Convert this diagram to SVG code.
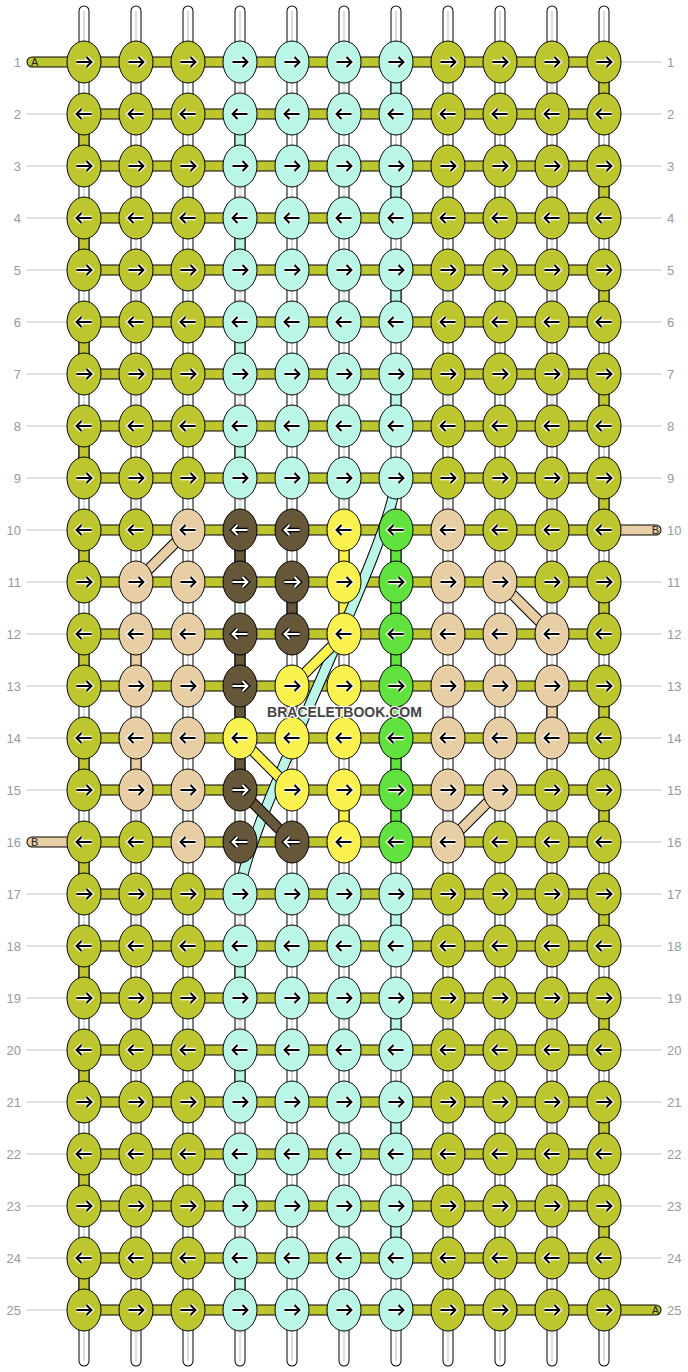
<svg xmlns="http://www.w3.org/2000/svg" width="688" height="1372" viewBox="0 0 688 1372">
<style>
.o{fill:none;stroke:#000;stroke-width:11;stroke-linecap:round}
.od{fill:none;stroke:#000;stroke-width:11}
.w{fill:none;stroke:#fff;stroke-width:9;stroke-linecap:round}
.gl{fill:none;stroke:#bbb;stroke-width:1}
.sg{fill:none;stroke:#bdc62f;stroke-width:9;stroke-linecap:round}
.sm{fill:none;stroke:#b9f6e8;stroke-width:9;stroke-linecap:round}
.st{fill:none;stroke:#e8cea5;stroke-width:9;stroke-linecap:round}
.sb{fill:none;stroke:#67573a;stroke-width:9;stroke-linecap:round}
.sy{fill:none;stroke:#f9f14e;stroke-width:9;stroke-linecap:round}
.sl{fill:none;stroke:#62e23e;stroke-width:9;stroke-linecap:round}
.dm{fill:none;stroke:#b9f6e8;stroke-width:9}
.dt{fill:none;stroke:#e8cea5;stroke-width:9}
.dy{fill:none;stroke:#f9f14e;stroke-width:9}
.db{fill:none;stroke:#67573a;stroke-width:9}
.cg{fill:#bdc62f}.cm{fill:#b9f6e8}.ct{fill:#e8cea5}.cb{fill:#67573a}.cy{fill:#f9f14e}.cl{fill:#62e23e}
.ln{fill:none;stroke:#c4c4c4;stroke-width:1}
.lb{font-family:"Liberation Sans",Arial,sans-serif;font-size:13px;fill:#999}
.tl{font-family:"Liberation Sans",Arial,sans-serif;font-size:11px;fill:#222}
.wm{font-family:"Liberation Sans",Arial,sans-serif;font-size:14px;font-weight:bold;fill:#444;stroke:#fff;stroke-width:2.5;paint-order:stroke;stroke-linejoin:round}
</style>
<defs>
<ellipse id="e" rx="17" ry="21" stroke="#000" stroke-width="1"/>
<path id="pR" d="M-7.5,0H7M2.5,-5L7.5,0L2.5,5" fill="none"/>
<path id="pL" d="M7.5,0H-7M-2.5,-5L-7.5,0L-2.5,5" fill="none"/>
<g id="R"><use href="#pR" stroke="#fff" stroke-width="4.5"/><use href="#pR" stroke="#000" stroke-width="2"/></g>
<g id="L"><use href="#pL" stroke="#fff" stroke-width="4.5"/><use href="#pL" stroke="#000" stroke-width="2"/></g>
<g id="Rw"><use href="#pR" stroke="#000" stroke-width="4.5"/><use href="#pR" stroke="#fff" stroke-width="2"/></g>
<g id="Lw"><use href="#pL" stroke="#000" stroke-width="4.5"/><use href="#pL" stroke="#fff" stroke-width="2"/></g>
<path id="vs" d="M84,11V1361M136,11V1361M188,11V1361M240,11V1361M292,11V1361M344,11V1361M396,11V1361M448,11V1361M500,11V1361M552,11V1361M604,11V1361"/>
<path id="vg" d="M604,62V114M604,166V218M604,270V322M604,374V426M604,478V530M604,582V634M604,686V738M604,790V842M604,894V946M604,998V1050M604,1102V1154M604,1206V1258M84,114V166M84,218V270M84,322V374M84,426V478M84,530V582M84,634V686M84,738V790M84,842V894M84,946V998M84,1050V1102M84,1154V1206M84,1258V1310"/>
<path id="vm" d="M396,62V114M396,166V218M396,270V322M396,374V426M396,894V946M396,998V1050M396,1102V1154M396,1206V1258M240,114V166M240,218V270M240,322V374M240,426V478M240,946V998M240,1050V1102M240,1154V1206M240,1258V1310"/>
<path id="vb" d="M240,530V582M292,582V634M240,634V790"/>
<path id="vy" d="M344,530V634M344,686V738M344,790V842"/>
<path id="vl" d="M396,530V842"/>
<path id="vt" d="M136,634V686M552,686V738M136,738V790"/>
<path id="hg" d="M84,62H604M84,114H604M84,166H604M84,218H604M84,270H604M84,322H604M84,374H604M84,426H604M84,478H604M84,530H604M84,582H604M84,634H604M84,686H604M84,738H604M84,790H604M84,842H604M84,894H604M84,946H604M84,998H604M84,1050H604M84,1102H604M84,1154H604M84,1206H604M84,1258H604M84,1310H604M32,62H84M604,1310H656"/>
<path id="ht" d="M604,530H656M32,842H84"/>
<path id="dm" d="M396,478C396,538 240,834 240,894"/>
<path id="dt" d="M188,530L136,582M500,582L552,634M500,790L448,842"/>
<path id="dy" d="M344,634L292,686M240,738L292,790"/>
<path id="db" d="M240,790L292,842"/>
</defs>
<rect width="688" height="1372" fill="#fff"/>
<g id="labels">
<path class="ln" d="M26,114H67M26,166H67M26,218H67M26,270H67M26,322H67M26,374H67M26,426H67M26,478H67M26,530H67M26,582H67M26,634H67M26,686H67M26,738H67M26,790H67M26,894H67M26,946H67M26,998H67M26,1050H67M26,1102H67M26,1154H67M26,1206H67M26,1258H67M26,1310H67"/>
<path class="ln" d="M621,62H662M621,114H662M621,166H662M621,218H662M621,270H662M621,322H662M621,374H662M621,426H662M621,478H662M621,582H662M621,634H662M621,686H662M621,738H662M621,790H662M621,842H662M621,894H662M621,946H662M621,998H662M621,1050H662M621,1102H662M621,1154H662M621,1206H662M621,1258H662"/>
<g class="lb" text-anchor="end">
<text x="21" y="66.5">1</text><text x="21" y="118.5">2</text><text x="21" y="170.5">3</text><text x="21" y="222.5">4</text><text x="21" y="274.5">5</text><text x="21" y="326.5">6</text><text x="21" y="378.5">7</text><text x="21" y="430.5">8</text><text x="21" y="482.5">9</text><text x="21" y="534.5">10</text><text x="21" y="586.5">11</text><text x="21" y="638.5">12</text><text x="21" y="690.5">13</text><text x="21" y="742.5">14</text><text x="21" y="794.5">15</text><text x="21" y="846.5">16</text><text x="21" y="898.5">17</text><text x="21" y="950.5">18</text><text x="21" y="1002.5">19</text><text x="21" y="1054.5">20</text><text x="21" y="1106.5">21</text><text x="21" y="1158.5">22</text><text x="21" y="1210.5">23</text><text x="21" y="1262.5">24</text><text x="21" y="1314.5">25</text>
</g>
<g class="lb">
<text x="667" y="66.5">1</text><text x="667" y="118.5">2</text><text x="667" y="170.5">3</text><text x="667" y="222.5">4</text><text x="667" y="274.5">5</text><text x="667" y="326.5">6</text><text x="667" y="378.5">7</text><text x="667" y="430.5">8</text><text x="667" y="482.5">9</text><text x="667" y="534.5">10</text><text x="667" y="586.5">11</text><text x="667" y="638.5">12</text><text x="667" y="690.5">13</text><text x="667" y="742.5">14</text><text x="667" y="794.5">15</text><text x="667" y="846.5">16</text><text x="667" y="898.5">17</text><text x="667" y="950.5">18</text><text x="667" y="1002.5">19</text><text x="667" y="1054.5">20</text><text x="667" y="1106.5">21</text><text x="667" y="1158.5">22</text><text x="667" y="1210.5">23</text><text x="667" y="1262.5">24</text><text x="667" y="1314.5">25</text>
</g>
</g>
<g id="connectors">
<use href="#vs" class="o"/><use href="#vs" class="w"/><use href="#vs" class="gl"/>
<use href="#vg" class="o"/><use href="#vg" class="sg"/>
<use href="#vm" class="o"/><use href="#vm" class="sm"/>
<use href="#vb" class="o"/><use href="#vb" class="sb"/>
<use href="#vy" class="o"/><use href="#vy" class="sy"/>
<use href="#vl" class="o"/><use href="#vl" class="sl"/>
<use href="#vt" class="o"/><use href="#vt" class="st"/>
<use href="#hg" class="o"/><use href="#hg" class="sg"/>
<use href="#ht" class="o"/><use href="#ht" class="st"/>
<use href="#dm" class="od"/><use href="#dm" class="dm"/>
<use href="#dt" class="od"/><use href="#dt" class="dt"/>
<use href="#dy" class="od"/><use href="#dy" class="dy"/>
<use href="#db" class="od"/><use href="#db" class="db"/>
</g>
<g id="tails">
<text class="tl" x="31" y="66">A</text>
<text class="tl" x="31" y="846">B</text>
<text class="tl" x="659" y="534" text-anchor="end">B</text>
<text class="tl" x="659" y="1314" text-anchor="end">A</text>
</g>
<g id="knots">
<g id="k01-01"><use href="#e" x="84" y="62" class="cg"/><use href="#R" x="84" y="62"/></g>
<g id="k01-02"><use href="#e" x="136" y="62" class="cg"/><use href="#R" x="136" y="62"/></g>
<g id="k01-03"><use href="#e" x="188" y="62" class="cg"/><use href="#R" x="188" y="62"/></g>
<g id="k01-04"><use href="#e" x="240" y="62" class="cm"/><use href="#R" x="240" y="62"/></g>
<g id="k01-05"><use href="#e" x="292" y="62" class="cm"/><use href="#R" x="292" y="62"/></g>
<g id="k01-06"><use href="#e" x="344" y="62" class="cm"/><use href="#R" x="344" y="62"/></g>
<g id="k01-07"><use href="#e" x="396" y="62" class="cm"/><use href="#R" x="396" y="62"/></g>
<g id="k01-08"><use href="#e" x="448" y="62" class="cg"/><use href="#R" x="448" y="62"/></g>
<g id="k01-09"><use href="#e" x="500" y="62" class="cg"/><use href="#R" x="500" y="62"/></g>
<g id="k01-10"><use href="#e" x="552" y="62" class="cg"/><use href="#R" x="552" y="62"/></g>
<g id="k01-11"><use href="#e" x="604" y="62" class="cg"/><use href="#R" x="604" y="62"/></g>
<g id="k02-01"><use href="#e" x="84" y="114" class="cg"/><use href="#L" x="84" y="114"/></g>
<g id="k02-02"><use href="#e" x="136" y="114" class="cg"/><use href="#L" x="136" y="114"/></g>
<g id="k02-03"><use href="#e" x="188" y="114" class="cg"/><use href="#L" x="188" y="114"/></g>
<g id="k02-04"><use href="#e" x="240" y="114" class="cm"/><use href="#L" x="240" y="114"/></g>
<g id="k02-05"><use href="#e" x="292" y="114" class="cm"/><use href="#L" x="292" y="114"/></g>
<g id="k02-06"><use href="#e" x="344" y="114" class="cm"/><use href="#L" x="344" y="114"/></g>
<g id="k02-07"><use href="#e" x="396" y="114" class="cm"/><use href="#L" x="396" y="114"/></g>
<g id="k02-08"><use href="#e" x="448" y="114" class="cg"/><use href="#L" x="448" y="114"/></g>
<g id="k02-09"><use href="#e" x="500" y="114" class="cg"/><use href="#L" x="500" y="114"/></g>
<g id="k02-10"><use href="#e" x="552" y="114" class="cg"/><use href="#L" x="552" y="114"/></g>
<g id="k02-11"><use href="#e" x="604" y="114" class="cg"/><use href="#L" x="604" y="114"/></g>
<g id="k03-01"><use href="#e" x="84" y="166" class="cg"/><use href="#R" x="84" y="166"/></g>
<g id="k03-02"><use href="#e" x="136" y="166" class="cg"/><use href="#R" x="136" y="166"/></g>
<g id="k03-03"><use href="#e" x="188" y="166" class="cg"/><use href="#R" x="188" y="166"/></g>
<g id="k03-04"><use href="#e" x="240" y="166" class="cm"/><use href="#R" x="240" y="166"/></g>
<g id="k03-05"><use href="#e" x="292" y="166" class="cm"/><use href="#R" x="292" y="166"/></g>
<g id="k03-06"><use href="#e" x="344" y="166" class="cm"/><use href="#R" x="344" y="166"/></g>
<g id="k03-07"><use href="#e" x="396" y="166" class="cm"/><use href="#R" x="396" y="166"/></g>
<g id="k03-08"><use href="#e" x="448" y="166" class="cg"/><use href="#R" x="448" y="166"/></g>
<g id="k03-09"><use href="#e" x="500" y="166" class="cg"/><use href="#R" x="500" y="166"/></g>
<g id="k03-10"><use href="#e" x="552" y="166" class="cg"/><use href="#R" x="552" y="166"/></g>
<g id="k03-11"><use href="#e" x="604" y="166" class="cg"/><use href="#R" x="604" y="166"/></g>
<g id="k04-01"><use href="#e" x="84" y="218" class="cg"/><use href="#L" x="84" y="218"/></g>
<g id="k04-02"><use href="#e" x="136" y="218" class="cg"/><use href="#L" x="136" y="218"/></g>
<g id="k04-03"><use href="#e" x="188" y="218" class="cg"/><use href="#L" x="188" y="218"/></g>
<g id="k04-04"><use href="#e" x="240" y="218" class="cm"/><use href="#L" x="240" y="218"/></g>
<g id="k04-05"><use href="#e" x="292" y="218" class="cm"/><use href="#L" x="292" y="218"/></g>
<g id="k04-06"><use href="#e" x="344" y="218" class="cm"/><use href="#L" x="344" y="218"/></g>
<g id="k04-07"><use href="#e" x="396" y="218" class="cm"/><use href="#L" x="396" y="218"/></g>
<g id="k04-08"><use href="#e" x="448" y="218" class="cg"/><use href="#L" x="448" y="218"/></g>
<g id="k04-09"><use href="#e" x="500" y="218" class="cg"/><use href="#L" x="500" y="218"/></g>
<g id="k04-10"><use href="#e" x="552" y="218" class="cg"/><use href="#L" x="552" y="218"/></g>
<g id="k04-11"><use href="#e" x="604" y="218" class="cg"/><use href="#L" x="604" y="218"/></g>
<g id="k05-01"><use href="#e" x="84" y="270" class="cg"/><use href="#R" x="84" y="270"/></g>
<g id="k05-02"><use href="#e" x="136" y="270" class="cg"/><use href="#R" x="136" y="270"/></g>
<g id="k05-03"><use href="#e" x="188" y="270" class="cg"/><use href="#R" x="188" y="270"/></g>
<g id="k05-04"><use href="#e" x="240" y="270" class="cm"/><use href="#R" x="240" y="270"/></g>
<g id="k05-05"><use href="#e" x="292" y="270" class="cm"/><use href="#R" x="292" y="270"/></g>
<g id="k05-06"><use href="#e" x="344" y="270" class="cm"/><use href="#R" x="344" y="270"/></g>
<g id="k05-07"><use href="#e" x="396" y="270" class="cm"/><use href="#R" x="396" y="270"/></g>
<g id="k05-08"><use href="#e" x="448" y="270" class="cg"/><use href="#R" x="448" y="270"/></g>
<g id="k05-09"><use href="#e" x="500" y="270" class="cg"/><use href="#R" x="500" y="270"/></g>
<g id="k05-10"><use href="#e" x="552" y="270" class="cg"/><use href="#R" x="552" y="270"/></g>
<g id="k05-11"><use href="#e" x="604" y="270" class="cg"/><use href="#R" x="604" y="270"/></g>
<g id="k06-01"><use href="#e" x="84" y="322" class="cg"/><use href="#L" x="84" y="322"/></g>
<g id="k06-02"><use href="#e" x="136" y="322" class="cg"/><use href="#L" x="136" y="322"/></g>
<g id="k06-03"><use href="#e" x="188" y="322" class="cg"/><use href="#L" x="188" y="322"/></g>
<g id="k06-04"><use href="#e" x="240" y="322" class="cm"/><use href="#L" x="240" y="322"/></g>
<g id="k06-05"><use href="#e" x="292" y="322" class="cm"/><use href="#L" x="292" y="322"/></g>
<g id="k06-06"><use href="#e" x="344" y="322" class="cm"/><use href="#L" x="344" y="322"/></g>
<g id="k06-07"><use href="#e" x="396" y="322" class="cm"/><use href="#L" x="396" y="322"/></g>
<g id="k06-08"><use href="#e" x="448" y="322" class="cg"/><use href="#L" x="448" y="322"/></g>
<g id="k06-09"><use href="#e" x="500" y="322" class="cg"/><use href="#L" x="500" y="322"/></g>
<g id="k06-10"><use href="#e" x="552" y="322" class="cg"/><use href="#L" x="552" y="322"/></g>
<g id="k06-11"><use href="#e" x="604" y="322" class="cg"/><use href="#L" x="604" y="322"/></g>
<g id="k07-01"><use href="#e" x="84" y="374" class="cg"/><use href="#R" x="84" y="374"/></g>
<g id="k07-02"><use href="#e" x="136" y="374" class="cg"/><use href="#R" x="136" y="374"/></g>
<g id="k07-03"><use href="#e" x="188" y="374" class="cg"/><use href="#R" x="188" y="374"/></g>
<g id="k07-04"><use href="#e" x="240" y="374" class="cm"/><use href="#R" x="240" y="374"/></g>
<g id="k07-05"><use href="#e" x="292" y="374" class="cm"/><use href="#R" x="292" y="374"/></g>
<g id="k07-06"><use href="#e" x="344" y="374" class="cm"/><use href="#R" x="344" y="374"/></g>
<g id="k07-07"><use href="#e" x="396" y="374" class="cm"/><use href="#R" x="396" y="374"/></g>
<g id="k07-08"><use href="#e" x="448" y="374" class="cg"/><use href="#R" x="448" y="374"/></g>
<g id="k07-09"><use href="#e" x="500" y="374" class="cg"/><use href="#R" x="500" y="374"/></g>
<g id="k07-10"><use href="#e" x="552" y="374" class="cg"/><use href="#R" x="552" y="374"/></g>
<g id="k07-11"><use href="#e" x="604" y="374" class="cg"/><use href="#R" x="604" y="374"/></g>
<g id="k08-01"><use href="#e" x="84" y="426" class="cg"/><use href="#L" x="84" y="426"/></g>
<g id="k08-02"><use href="#e" x="136" y="426" class="cg"/><use href="#L" x="136" y="426"/></g>
<g id="k08-03"><use href="#e" x="188" y="426" class="cg"/><use href="#L" x="188" y="426"/></g>
<g id="k08-04"><use href="#e" x="240" y="426" class="cm"/><use href="#L" x="240" y="426"/></g>
<g id="k08-05"><use href="#e" x="292" y="426" class="cm"/><use href="#L" x="292" y="426"/></g>
<g id="k08-06"><use href="#e" x="344" y="426" class="cm"/><use href="#L" x="344" y="426"/></g>
<g id="k08-07"><use href="#e" x="396" y="426" class="cm"/><use href="#L" x="396" y="426"/></g>
<g id="k08-08"><use href="#e" x="448" y="426" class="cg"/><use href="#L" x="448" y="426"/></g>
<g id="k08-09"><use href="#e" x="500" y="426" class="cg"/><use href="#L" x="500" y="426"/></g>
<g id="k08-10"><use href="#e" x="552" y="426" class="cg"/><use href="#L" x="552" y="426"/></g>
<g id="k08-11"><use href="#e" x="604" y="426" class="cg"/><use href="#L" x="604" y="426"/></g>
<g id="k09-01"><use href="#e" x="84" y="478" class="cg"/><use href="#R" x="84" y="478"/></g>
<g id="k09-02"><use href="#e" x="136" y="478" class="cg"/><use href="#R" x="136" y="478"/></g>
<g id="k09-03"><use href="#e" x="188" y="478" class="cg"/><use href="#R" x="188" y="478"/></g>
<g id="k09-04"><use href="#e" x="240" y="478" class="cm"/><use href="#R" x="240" y="478"/></g>
<g id="k09-05"><use href="#e" x="292" y="478" class="cm"/><use href="#R" x="292" y="478"/></g>
<g id="k09-06"><use href="#e" x="344" y="478" class="cm"/><use href="#R" x="344" y="478"/></g>
<g id="k09-07"><use href="#e" x="396" y="478" class="cm"/><use href="#R" x="396" y="478"/></g>
<g id="k09-08"><use href="#e" x="448" y="478" class="cg"/><use href="#R" x="448" y="478"/></g>
<g id="k09-09"><use href="#e" x="500" y="478" class="cg"/><use href="#R" x="500" y="478"/></g>
<g id="k09-10"><use href="#e" x="552" y="478" class="cg"/><use href="#R" x="552" y="478"/></g>
<g id="k09-11"><use href="#e" x="604" y="478" class="cg"/><use href="#R" x="604" y="478"/></g>
<g id="k10-01"><use href="#e" x="84" y="530" class="cg"/><use href="#L" x="84" y="530"/></g>
<g id="k10-02"><use href="#e" x="136" y="530" class="cg"/><use href="#L" x="136" y="530"/></g>
<g id="k10-03"><use href="#e" x="188" y="530" class="ct"/><use href="#L" x="188" y="530"/></g>
<g id="k10-04"><use href="#e" x="240" y="530" class="cb"/><use href="#Lw" x="240" y="530"/></g>
<g id="k10-05"><use href="#e" x="292" y="530" class="cb"/><use href="#Lw" x="292" y="530"/></g>
<g id="k10-06"><use href="#e" x="344" y="530" class="cy"/><use href="#L" x="344" y="530"/></g>
<g id="k10-07"><use href="#e" x="396" y="530" class="cl"/><use href="#L" x="396" y="530"/></g>
<g id="k10-08"><use href="#e" x="448" y="530" class="ct"/><use href="#L" x="448" y="530"/></g>
<g id="k10-09"><use href="#e" x="500" y="530" class="cg"/><use href="#L" x="500" y="530"/></g>
<g id="k10-10"><use href="#e" x="552" y="530" class="cg"/><use href="#L" x="552" y="530"/></g>
<g id="k10-11"><use href="#e" x="604" y="530" class="cg"/><use href="#L" x="604" y="530"/></g>
<g id="k11-01"><use href="#e" x="84" y="582" class="cg"/><use href="#R" x="84" y="582"/></g>
<g id="k11-02"><use href="#e" x="136" y="582" class="ct"/><use href="#R" x="136" y="582"/></g>
<g id="k11-03"><use href="#e" x="188" y="582" class="ct"/><use href="#R" x="188" y="582"/></g>
<g id="k11-04"><use href="#e" x="240" y="582" class="cb"/><use href="#Rw" x="240" y="582"/></g>
<g id="k11-05"><use href="#e" x="292" y="582" class="cb"/><use href="#Rw" x="292" y="582"/></g>
<g id="k11-06"><use href="#e" x="344" y="582" class="cy"/><use href="#R" x="344" y="582"/></g>
<g id="k11-07"><use href="#e" x="396" y="582" class="cl"/><use href="#R" x="396" y="582"/></g>
<g id="k11-08"><use href="#e" x="448" y="582" class="ct"/><use href="#R" x="448" y="582"/></g>
<g id="k11-09"><use href="#e" x="500" y="582" class="ct"/><use href="#R" x="500" y="582"/></g>
<g id="k11-10"><use href="#e" x="552" y="582" class="cg"/><use href="#R" x="552" y="582"/></g>
<g id="k11-11"><use href="#e" x="604" y="582" class="cg"/><use href="#R" x="604" y="582"/></g>
<g id="k12-01"><use href="#e" x="84" y="634" class="cg"/><use href="#L" x="84" y="634"/></g>
<g id="k12-02"><use href="#e" x="136" y="634" class="ct"/><use href="#L" x="136" y="634"/></g>
<g id="k12-03"><use href="#e" x="188" y="634" class="ct"/><use href="#L" x="188" y="634"/></g>
<g id="k12-04"><use href="#e" x="240" y="634" class="cb"/><use href="#Lw" x="240" y="634"/></g>
<g id="k12-05"><use href="#e" x="292" y="634" class="cb"/><use href="#Lw" x="292" y="634"/></g>
<g id="k12-06"><use href="#e" x="344" y="634" class="cy"/><use href="#L" x="344" y="634"/></g>
<g id="k12-07"><use href="#e" x="396" y="634" class="cl"/><use href="#L" x="396" y="634"/></g>
<g id="k12-08"><use href="#e" x="448" y="634" class="ct"/><use href="#L" x="448" y="634"/></g>
<g id="k12-09"><use href="#e" x="500" y="634" class="ct"/><use href="#L" x="500" y="634"/></g>
<g id="k12-10"><use href="#e" x="552" y="634" class="ct"/><use href="#L" x="552" y="634"/></g>
<g id="k12-11"><use href="#e" x="604" y="634" class="cg"/><use href="#L" x="604" y="634"/></g>
<g id="k13-01"><use href="#e" x="84" y="686" class="cg"/><use href="#R" x="84" y="686"/></g>
<g id="k13-02"><use href="#e" x="136" y="686" class="ct"/><use href="#R" x="136" y="686"/></g>
<g id="k13-03"><use href="#e" x="188" y="686" class="ct"/><use href="#R" x="188" y="686"/></g>
<g id="k13-04"><use href="#e" x="240" y="686" class="cb"/><use href="#Rw" x="240" y="686"/></g>
<g id="k13-05"><use href="#e" x="292" y="686" class="cy"/><use href="#R" x="292" y="686"/></g>
<g id="k13-06"><use href="#e" x="344" y="686" class="cy"/><use href="#R" x="344" y="686"/></g>
<g id="k13-07"><use href="#e" x="396" y="686" class="cl"/><use href="#R" x="396" y="686"/></g>
<g id="k13-08"><use href="#e" x="448" y="686" class="ct"/><use href="#R" x="448" y="686"/></g>
<g id="k13-09"><use href="#e" x="500" y="686" class="ct"/><use href="#R" x="500" y="686"/></g>
<g id="k13-10"><use href="#e" x="552" y="686" class="ct"/><use href="#R" x="552" y="686"/></g>
<g id="k13-11"><use href="#e" x="604" y="686" class="cg"/><use href="#R" x="604" y="686"/></g>
<g id="k14-01"><use href="#e" x="84" y="738" class="cg"/><use href="#L" x="84" y="738"/></g>
<g id="k14-02"><use href="#e" x="136" y="738" class="ct"/><use href="#L" x="136" y="738"/></g>
<g id="k14-03"><use href="#e" x="188" y="738" class="ct"/><use href="#L" x="188" y="738"/></g>
<g id="k14-04"><use href="#e" x="240" y="738" class="cy"/><use href="#L" x="240" y="738"/></g>
<g id="k14-05"><use href="#e" x="292" y="738" class="cy"/><use href="#L" x="292" y="738"/></g>
<g id="k14-06"><use href="#e" x="344" y="738" class="cy"/><use href="#L" x="344" y="738"/></g>
<g id="k14-07"><use href="#e" x="396" y="738" class="cl"/><use href="#L" x="396" y="738"/></g>
<g id="k14-08"><use href="#e" x="448" y="738" class="ct"/><use href="#L" x="448" y="738"/></g>
<g id="k14-09"><use href="#e" x="500" y="738" class="ct"/><use href="#L" x="500" y="738"/></g>
<g id="k14-10"><use href="#e" x="552" y="738" class="ct"/><use href="#L" x="552" y="738"/></g>
<g id="k14-11"><use href="#e" x="604" y="738" class="cg"/><use href="#L" x="604" y="738"/></g>
<g id="k15-01"><use href="#e" x="84" y="790" class="cg"/><use href="#R" x="84" y="790"/></g>
<g id="k15-02"><use href="#e" x="136" y="790" class="ct"/><use href="#R" x="136" y="790"/></g>
<g id="k15-03"><use href="#e" x="188" y="790" class="ct"/><use href="#R" x="188" y="790"/></g>
<g id="k15-04"><use href="#e" x="240" y="790" class="cb"/><use href="#Rw" x="240" y="790"/></g>
<g id="k15-05"><use href="#e" x="292" y="790" class="cy"/><use href="#R" x="292" y="790"/></g>
<g id="k15-06"><use href="#e" x="344" y="790" class="cy"/><use href="#R" x="344" y="790"/></g>
<g id="k15-07"><use href="#e" x="396" y="790" class="cl"/><use href="#R" x="396" y="790"/></g>
<g id="k15-08"><use href="#e" x="448" y="790" class="ct"/><use href="#R" x="448" y="790"/></g>
<g id="k15-09"><use href="#e" x="500" y="790" class="ct"/><use href="#R" x="500" y="790"/></g>
<g id="k15-10"><use href="#e" x="552" y="790" class="cg"/><use href="#R" x="552" y="790"/></g>
<g id="k15-11"><use href="#e" x="604" y="790" class="cg"/><use href="#R" x="604" y="790"/></g>
<g id="k16-01"><use href="#e" x="84" y="842" class="cg"/><use href="#L" x="84" y="842"/></g>
<g id="k16-02"><use href="#e" x="136" y="842" class="cg"/><use href="#L" x="136" y="842"/></g>
<g id="k16-03"><use href="#e" x="188" y="842" class="ct"/><use href="#L" x="188" y="842"/></g>
<g id="k16-04"><use href="#e" x="240" y="842" class="cb"/><use href="#Lw" x="240" y="842"/></g>
<g id="k16-05"><use href="#e" x="292" y="842" class="cb"/><use href="#Lw" x="292" y="842"/></g>
<g id="k16-06"><use href="#e" x="344" y="842" class="cy"/><use href="#L" x="344" y="842"/></g>
<g id="k16-07"><use href="#e" x="396" y="842" class="cl"/><use href="#L" x="396" y="842"/></g>
<g id="k16-08"><use href="#e" x="448" y="842" class="ct"/><use href="#L" x="448" y="842"/></g>
<g id="k16-09"><use href="#e" x="500" y="842" class="cg"/><use href="#L" x="500" y="842"/></g>
<g id="k16-10"><use href="#e" x="552" y="842" class="cg"/><use href="#L" x="552" y="842"/></g>
<g id="k16-11"><use href="#e" x="604" y="842" class="cg"/><use href="#L" x="604" y="842"/></g>
<g id="k17-01"><use href="#e" x="84" y="894" class="cg"/><use href="#R" x="84" y="894"/></g>
<g id="k17-02"><use href="#e" x="136" y="894" class="cg"/><use href="#R" x="136" y="894"/></g>
<g id="k17-03"><use href="#e" x="188" y="894" class="cg"/><use href="#R" x="188" y="894"/></g>
<g id="k17-04"><use href="#e" x="240" y="894" class="cm"/><use href="#R" x="240" y="894"/></g>
<g id="k17-05"><use href="#e" x="292" y="894" class="cm"/><use href="#R" x="292" y="894"/></g>
<g id="k17-06"><use href="#e" x="344" y="894" class="cm"/><use href="#R" x="344" y="894"/></g>
<g id="k17-07"><use href="#e" x="396" y="894" class="cm"/><use href="#R" x="396" y="894"/></g>
<g id="k17-08"><use href="#e" x="448" y="894" class="cg"/><use href="#R" x="448" y="894"/></g>
<g id="k17-09"><use href="#e" x="500" y="894" class="cg"/><use href="#R" x="500" y="894"/></g>
<g id="k17-10"><use href="#e" x="552" y="894" class="cg"/><use href="#R" x="552" y="894"/></g>
<g id="k17-11"><use href="#e" x="604" y="894" class="cg"/><use href="#R" x="604" y="894"/></g>
<g id="k18-01"><use href="#e" x="84" y="946" class="cg"/><use href="#L" x="84" y="946"/></g>
<g id="k18-02"><use href="#e" x="136" y="946" class="cg"/><use href="#L" x="136" y="946"/></g>
<g id="k18-03"><use href="#e" x="188" y="946" class="cg"/><use href="#L" x="188" y="946"/></g>
<g id="k18-04"><use href="#e" x="240" y="946" class="cm"/><use href="#L" x="240" y="946"/></g>
<g id="k18-05"><use href="#e" x="292" y="946" class="cm"/><use href="#L" x="292" y="946"/></g>
<g id="k18-06"><use href="#e" x="344" y="946" class="cm"/><use href="#L" x="344" y="946"/></g>
<g id="k18-07"><use href="#e" x="396" y="946" class="cm"/><use href="#L" x="396" y="946"/></g>
<g id="k18-08"><use href="#e" x="448" y="946" class="cg"/><use href="#L" x="448" y="946"/></g>
<g id="k18-09"><use href="#e" x="500" y="946" class="cg"/><use href="#L" x="500" y="946"/></g>
<g id="k18-10"><use href="#e" x="552" y="946" class="cg"/><use href="#L" x="552" y="946"/></g>
<g id="k18-11"><use href="#e" x="604" y="946" class="cg"/><use href="#L" x="604" y="946"/></g>
<g id="k19-01"><use href="#e" x="84" y="998" class="cg"/><use href="#R" x="84" y="998"/></g>
<g id="k19-02"><use href="#e" x="136" y="998" class="cg"/><use href="#R" x="136" y="998"/></g>
<g id="k19-03"><use href="#e" x="188" y="998" class="cg"/><use href="#R" x="188" y="998"/></g>
<g id="k19-04"><use href="#e" x="240" y="998" class="cm"/><use href="#R" x="240" y="998"/></g>
<g id="k19-05"><use href="#e" x="292" y="998" class="cm"/><use href="#R" x="292" y="998"/></g>
<g id="k19-06"><use href="#e" x="344" y="998" class="cm"/><use href="#R" x="344" y="998"/></g>
<g id="k19-07"><use href="#e" x="396" y="998" class="cm"/><use href="#R" x="396" y="998"/></g>
<g id="k19-08"><use href="#e" x="448" y="998" class="cg"/><use href="#R" x="448" y="998"/></g>
<g id="k19-09"><use href="#e" x="500" y="998" class="cg"/><use href="#R" x="500" y="998"/></g>
<g id="k19-10"><use href="#e" x="552" y="998" class="cg"/><use href="#R" x="552" y="998"/></g>
<g id="k19-11"><use href="#e" x="604" y="998" class="cg"/><use href="#R" x="604" y="998"/></g>
<g id="k20-01"><use href="#e" x="84" y="1050" class="cg"/><use href="#L" x="84" y="1050"/></g>
<g id="k20-02"><use href="#e" x="136" y="1050" class="cg"/><use href="#L" x="136" y="1050"/></g>
<g id="k20-03"><use href="#e" x="188" y="1050" class="cg"/><use href="#L" x="188" y="1050"/></g>
<g id="k20-04"><use href="#e" x="240" y="1050" class="cm"/><use href="#L" x="240" y="1050"/></g>
<g id="k20-05"><use href="#e" x="292" y="1050" class="cm"/><use href="#L" x="292" y="1050"/></g>
<g id="k20-06"><use href="#e" x="344" y="1050" class="cm"/><use href="#L" x="344" y="1050"/></g>
<g id="k20-07"><use href="#e" x="396" y="1050" class="cm"/><use href="#L" x="396" y="1050"/></g>
<g id="k20-08"><use href="#e" x="448" y="1050" class="cg"/><use href="#L" x="448" y="1050"/></g>
<g id="k20-09"><use href="#e" x="500" y="1050" class="cg"/><use href="#L" x="500" y="1050"/></g>
<g id="k20-10"><use href="#e" x="552" y="1050" class="cg"/><use href="#L" x="552" y="1050"/></g>
<g id="k20-11"><use href="#e" x="604" y="1050" class="cg"/><use href="#L" x="604" y="1050"/></g>
<g id="k21-01"><use href="#e" x="84" y="1102" class="cg"/><use href="#R" x="84" y="1102"/></g>
<g id="k21-02"><use href="#e" x="136" y="1102" class="cg"/><use href="#R" x="136" y="1102"/></g>
<g id="k21-03"><use href="#e" x="188" y="1102" class="cg"/><use href="#R" x="188" y="1102"/></g>
<g id="k21-04"><use href="#e" x="240" y="1102" class="cm"/><use href="#R" x="240" y="1102"/></g>
<g id="k21-05"><use href="#e" x="292" y="1102" class="cm"/><use href="#R" x="292" y="1102"/></g>
<g id="k21-06"><use href="#e" x="344" y="1102" class="cm"/><use href="#R" x="344" y="1102"/></g>
<g id="k21-07"><use href="#e" x="396" y="1102" class="cm"/><use href="#R" x="396" y="1102"/></g>
<g id="k21-08"><use href="#e" x="448" y="1102" class="cg"/><use href="#R" x="448" y="1102"/></g>
<g id="k21-09"><use href="#e" x="500" y="1102" class="cg"/><use href="#R" x="500" y="1102"/></g>
<g id="k21-10"><use href="#e" x="552" y="1102" class="cg"/><use href="#R" x="552" y="1102"/></g>
<g id="k21-11"><use href="#e" x="604" y="1102" class="cg"/><use href="#R" x="604" y="1102"/></g>
<g id="k22-01"><use href="#e" x="84" y="1154" class="cg"/><use href="#L" x="84" y="1154"/></g>
<g id="k22-02"><use href="#e" x="136" y="1154" class="cg"/><use href="#L" x="136" y="1154"/></g>
<g id="k22-03"><use href="#e" x="188" y="1154" class="cg"/><use href="#L" x="188" y="1154"/></g>
<g id="k22-04"><use href="#e" x="240" y="1154" class="cm"/><use href="#L" x="240" y="1154"/></g>
<g id="k22-05"><use href="#e" x="292" y="1154" class="cm"/><use href="#L" x="292" y="1154"/></g>
<g id="k22-06"><use href="#e" x="344" y="1154" class="cm"/><use href="#L" x="344" y="1154"/></g>
<g id="k22-07"><use href="#e" x="396" y="1154" class="cm"/><use href="#L" x="396" y="1154"/></g>
<g id="k22-08"><use href="#e" x="448" y="1154" class="cg"/><use href="#L" x="448" y="1154"/></g>
<g id="k22-09"><use href="#e" x="500" y="1154" class="cg"/><use href="#L" x="500" y="1154"/></g>
<g id="k22-10"><use href="#e" x="552" y="1154" class="cg"/><use href="#L" x="552" y="1154"/></g>
<g id="k22-11"><use href="#e" x="604" y="1154" class="cg"/><use href="#L" x="604" y="1154"/></g>
<g id="k23-01"><use href="#e" x="84" y="1206" class="cg"/><use href="#R" x="84" y="1206"/></g>
<g id="k23-02"><use href="#e" x="136" y="1206" class="cg"/><use href="#R" x="136" y="1206"/></g>
<g id="k23-03"><use href="#e" x="188" y="1206" class="cg"/><use href="#R" x="188" y="1206"/></g>
<g id="k23-04"><use href="#e" x="240" y="1206" class="cm"/><use href="#R" x="240" y="1206"/></g>
<g id="k23-05"><use href="#e" x="292" y="1206" class="cm"/><use href="#R" x="292" y="1206"/></g>
<g id="k23-06"><use href="#e" x="344" y="1206" class="cm"/><use href="#R" x="344" y="1206"/></g>
<g id="k23-07"><use href="#e" x="396" y="1206" class="cm"/><use href="#R" x="396" y="1206"/></g>
<g id="k23-08"><use href="#e" x="448" y="1206" class="cg"/><use href="#R" x="448" y="1206"/></g>
<g id="k23-09"><use href="#e" x="500" y="1206" class="cg"/><use href="#R" x="500" y="1206"/></g>
<g id="k23-10"><use href="#e" x="552" y="1206" class="cg"/><use href="#R" x="552" y="1206"/></g>
<g id="k23-11"><use href="#e" x="604" y="1206" class="cg"/><use href="#R" x="604" y="1206"/></g>
<g id="k24-01"><use href="#e" x="84" y="1258" class="cg"/><use href="#L" x="84" y="1258"/></g>
<g id="k24-02"><use href="#e" x="136" y="1258" class="cg"/><use href="#L" x="136" y="1258"/></g>
<g id="k24-03"><use href="#e" x="188" y="1258" class="cg"/><use href="#L" x="188" y="1258"/></g>
<g id="k24-04"><use href="#e" x="240" y="1258" class="cm"/><use href="#L" x="240" y="1258"/></g>
<g id="k24-05"><use href="#e" x="292" y="1258" class="cm"/><use href="#L" x="292" y="1258"/></g>
<g id="k24-06"><use href="#e" x="344" y="1258" class="cm"/><use href="#L" x="344" y="1258"/></g>
<g id="k24-07"><use href="#e" x="396" y="1258" class="cm"/><use href="#L" x="396" y="1258"/></g>
<g id="k24-08"><use href="#e" x="448" y="1258" class="cg"/><use href="#L" x="448" y="1258"/></g>
<g id="k24-09"><use href="#e" x="500" y="1258" class="cg"/><use href="#L" x="500" y="1258"/></g>
<g id="k24-10"><use href="#e" x="552" y="1258" class="cg"/><use href="#L" x="552" y="1258"/></g>
<g id="k24-11"><use href="#e" x="604" y="1258" class="cg"/><use href="#L" x="604" y="1258"/></g>
<g id="k25-01"><use href="#e" x="84" y="1310" class="cg"/><use href="#R" x="84" y="1310"/></g>
<g id="k25-02"><use href="#e" x="136" y="1310" class="cg"/><use href="#R" x="136" y="1310"/></g>
<g id="k25-03"><use href="#e" x="188" y="1310" class="cg"/><use href="#R" x="188" y="1310"/></g>
<g id="k25-04"><use href="#e" x="240" y="1310" class="cm"/><use href="#R" x="240" y="1310"/></g>
<g id="k25-05"><use href="#e" x="292" y="1310" class="cm"/><use href="#R" x="292" y="1310"/></g>
<g id="k25-06"><use href="#e" x="344" y="1310" class="cm"/><use href="#R" x="344" y="1310"/></g>
<g id="k25-07"><use href="#e" x="396" y="1310" class="cm"/><use href="#R" x="396" y="1310"/></g>
<g id="k25-08"><use href="#e" x="448" y="1310" class="cg"/><use href="#R" x="448" y="1310"/></g>
<g id="k25-09"><use href="#e" x="500" y="1310" class="cg"/><use href="#R" x="500" y="1310"/></g>
<g id="k25-10"><use href="#e" x="552" y="1310" class="cg"/><use href="#R" x="552" y="1310"/></g>
<g id="k25-11"><use href="#e" x="604" y="1310" class="cg"/><use href="#R" x="604" y="1310"/></g>
</g>
<text id="watermark" class="wm" x="344.5" y="717" text-anchor="middle">BRACELETBOOK.COM</text>
</svg>
